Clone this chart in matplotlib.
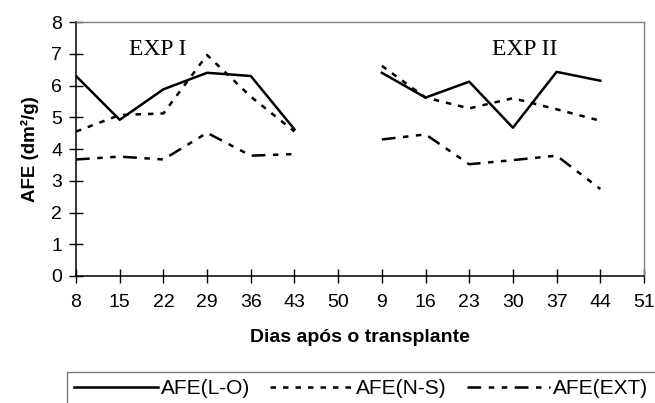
import numpy as np
import matplotlib
matplotlib.use("Agg")
import matplotlib.pyplot as plt

days = ["8", "15", "22", "29", "36", "43", "50", "9", "16", "23", "30", "37", "44", "51"]
nan = np.nan
afe_lo = [6.3, 4.92, 5.88, 6.4, 6.3, 4.62, nan, 6.4, 5.62, 6.12, 4.67, 6.43, 6.15, nan]
afe_ns = [4.55, 5.07, 5.12, 6.96, 5.65, 4.55, nan, 6.62, 5.62, 5.28, 5.6, 5.25, 4.89, nan]
afe_ext = [3.67, 3.76, 3.67, 4.51, 3.79, 3.84, nan, 4.3, 4.46, 3.52, 3.65, 3.79, 2.74, nan]
labels = ["AFE(L-O)", "AFE(N-S)", "AFE(EXT)"]

plt.rcParams['font.family'] = ['Liberation Sans', 'DejaVu Sans']

fig = plt.figure(figsize=(6.55, 4.03), dpi=100)
ax = fig.add_axes([76/655, 1-276/403, (644-76)/655, (276-22)/403])

x = np.arange(len(days))
lw = 1.8
ax.plot(x, afe_lo, color='black', lw=lw, linestyle='-', label=labels[0])
ax.plot(x, afe_ns, color='black', lw=lw, linestyle=(0, (2.2, 2.8)), label=labels[1])
ax.plot(x, afe_ext, color='black', lw=lw, linestyle=(0, (5.5, 3.0, 2.2, 3.0, 2.2, 3.0)), label=labels[2])

ax.set_xlim(0, len(days) - 1)
ax.set_ylim(0, 8)
ax.set_xticks(x)
ax.set_xticklabels(days)
ax.set_yticks(range(0, 9))

ax.tick_params(axis='both', direction='inout', length=10, width=1, color='black', labelsize=14)
ax.tick_params(axis='x', pad=8)
ax.tick_params(axis='y', pad=5)

for s in ['left', 'bottom']:
    ax.spines[s].set_color('black')
    ax.spines[s].set_linewidth(1.1)
for s in ['top', 'right']:
    ax.spines[s].set_color('#808080')
    ax.spines[s].set_linewidth(1.0)

ax.text(1.88, 7.12, "EXP I", family=['Liberation Serif', 'DejaVu Serif'], fontsize=17,
        ha='center', va='center')
ax.text(10.26, 7.12, "EXP II", family=['Liberation Serif', 'DejaVu Serif'], fontsize=17,
        ha='center', va='center')

ax.set_xlabel("Dias após o transplante", fontsize=14, fontweight='bold', labelpad=13)
ax.set_ylabel("AFE (dm²/g)", fontsize=13.5, fontweight='bold', labelpad=9)

leg = fig.legend(loc='upper left', bbox_to_anchor=(67/655, 1-372/403), ncol=3,
                 fontsize=15, frameon=True, fancybox=False, handlelength=4.0,
                 handletextpad=0.15, columnspacing=0.95, borderpad=0.35, borderaxespad=0)
leg.get_frame().set_edgecolor('#555555')
leg.get_frame().set_linewidth(1.0)

fig.savefig("out.png", dpi=100)
